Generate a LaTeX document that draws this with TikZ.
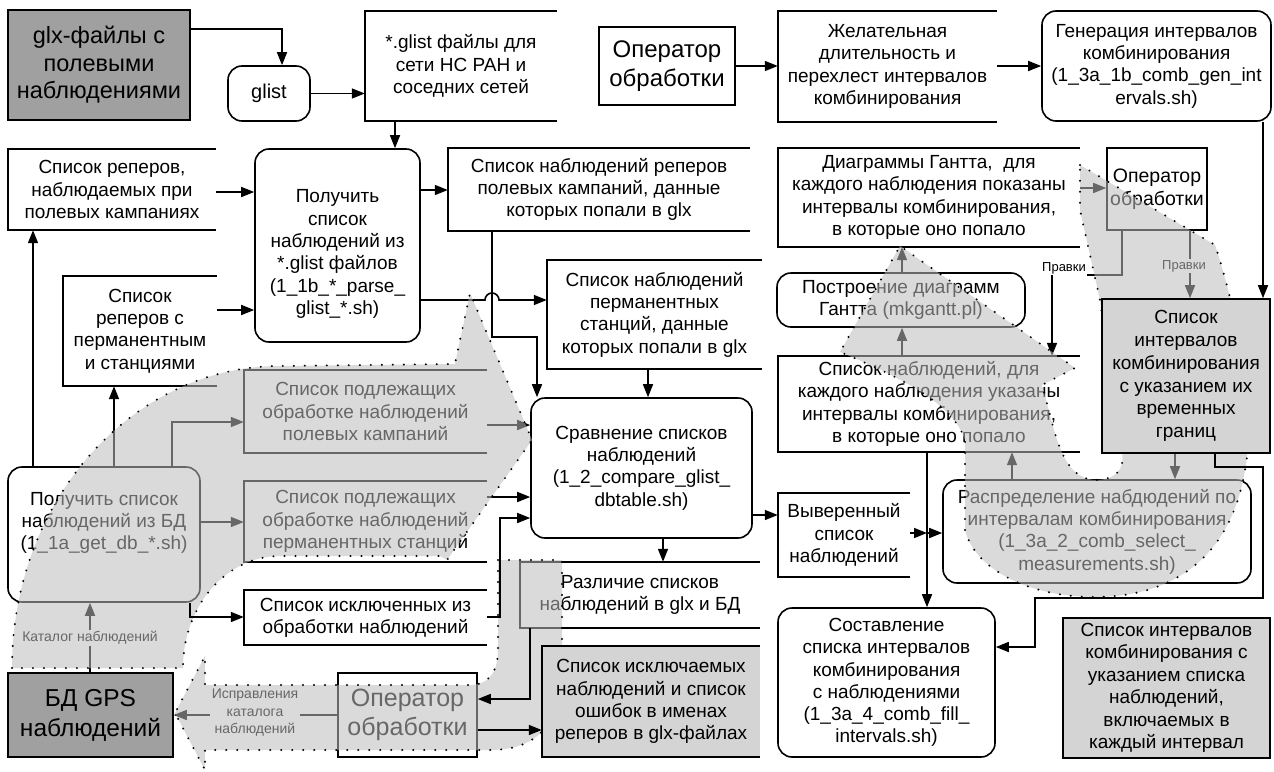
\documentclass[tikz,border=0pt]{standalone}
\usepackage{fontspec}
\setmainfont{Liberation Sans}
\usetikzlibrary{arrows.meta}
\definecolor{darkfill}{RGB}{160,160,160}
\definecolor{lightfill}{RGB}{212,212,212}
\definecolor{bandfill}{RGB}{188,188,188}
\pgfdeclarelayer{front}
\pgfsetlayers{main,front}
\newcommand\storelines[1]{\draw[boxline] (#1.north east) -- (#1.north west) -- (#1.south west) -- (#1.south east);}
\begin{document}
\begin{tikzpicture}[x=1pt,y=-1pt,
  boxline/.style={line width=1.6pt, draw=black},
  base/.style={inner sep=0pt, align=center, font=\fontsize{19}{22.3}\selectfont},
  proc/.style={base, draw, line width=1.6pt, rounded corners=14pt, rectangle},
  rect/.style={base, draw, line width=1.6pt, rectangle},
  store/.style={base, rectangle},
  arr/.style={line width=1.6pt, -{Triangle[length=13pt,width=10pt]}},
  conn/.style={line width=1.6pt},
  lbl/.style={font=\fontsize{14}{17.5}\selectfont, fill=white, inner sep=1.5pt, align=center},
  smalllbl/.style={font=\fontsize{13}{15}\selectfont, inner sep=1pt},
  band/.style={fill=bandfill, fill opacity=0.55, draw=black, line width=2.2pt, line cap=round, dash pattern=on 0pt off 11pt}]
\useasboundingbox (0,0) rectangle (1274,771);
\fill[white] (0,0) rectangle (1274,771);

% ---------- nodes ----------
\node[rect, fill=darkfill, minimum width=182pt, minimum height=110pt, font=\fontsize{23.5}{27.5}\selectfont] (glx) at (99,65) {glx-файлы с\\полевыми\\наблюдениями};
\node[proc, minimum width=82pt, minimum height=55pt, font=\fontsize{20}{24}\selectfont] (glist) at (269,93.5) {glist};
\node[store, minimum width=192pt, minimum height=110pt] (glistf) at (461,66) {*.glist файлы для\\сети НС РАН и\\соседних сетей};
\node[rect, minimum width=136pt, minimum height=78pt, font=\fontsize{24}{29}\selectfont] (op1) at (667,66) {Оператор\\обработки};
\node[store, minimum width=219pt, minimum height=111pt] (zhel) at (887.5,66.5) {Желательная\\длительность и\\перехлест интервалов\\комбинирования};
\node[proc, minimum width=229pt, minimum height=110pt] (gen) at (1156.5,66) {Генерация интервалов\\комбинирования\\(1\_3a\_1b\_comb\_gen\_int\\ervals.sh)};
\node[store, minimum width=208pt, minimum height=81pt] (reppol) at (112,189.5) {Список реперов,\\наблюдаемых при\\полевых кампаниях};
\node[proc, minimum width=165pt, minimum height=193pt] (parse) at (337.5,245.5) {};
\node[base] (parset) at (337.5,254) {Получить\\список\\наблюдений из\\*.glist файлов\\(1\_1b\_*\_parse\_\\glist\_*.sh)};
\node[store, minimum width=302pt, minimum height=83pt] (nabpol) at (599,189.5) {Список наблюдений реперов\\полевых кампаний, данные\\которых попали в glx};
\node[store, minimum width=302pt, minimum height=99pt] (gantt) at (929,197.5) {Диаграммы Гантта, \ для\\каждого наблюдения показаны\\интервалы комбинирования,\\в которые оно попало};
\node[rect, minimum width=100pt, minimum height=82pt, font=\fontsize{19.5}{23}\selectfont] (op2) at (1157,189) {Оператор\\обработки};
\node[store, minimum width=154pt, minimum height=110pt] (repperm) at (140,331) {Список\\реперов с\\перманентным\\и станциями};
\node[store, minimum width=215pt, minimum height=109pt] (nabperm) at (654.5,314.5) {Список наблюдений\\перманентных\\станций, данные\\которых попали в glx};
\node[proc, minimum width=248pt, minimum height=54pt] (mkg) at (901,300) {Построение диаграмм\\Гантта (mkgantt.pl)};
\node[store, minimum width=302pt, minimum height=96pt] (spisnab) at (929,404) {Список наблюдений, для\\каждого наблюдения указаны\\интервалы комбинирования,\\в которые оно попало};
\node[store, minimum width=243pt, minimum height=83pt] (podpol) at (365.5,411.5) {Список подлежащих\\обработке наблюдений\\полевых кампаний};
\node[store, minimum width=243pt, minimum height=81pt] (podperm) at (365.5,521.5) {Список подлежащих\\обработке наблюдений\\перманентных станций};
\node[store, minimum width=243pt, minimum height=55pt] (exclu) at (365.5,617.5) {Список исключенных из\\обработки наблюдений};
\node[proc, minimum width=221pt, minimum height=140pt] (cmp) at (641.5,468) {Сравнение списков\\наблюдений\\(1\_2\_compare\_glist\_\\dbtable.sh)};
\node[proc, minimum width=192pt, minimum height=135pt] (getdb) at (104,534.5) {};
\node[base] (getdbt) at (104,523) {Получить список\\наблюдений из БД\\(1\_1a\_get\_db\_*.sh)};
\node[store, minimum width=240pt, minimum height=66pt] (raz) at (640,595) {Различие списков\\наблюдений в glx и БД};
\node[store, minimum width=132pt, minimum height=84pt] (vyv) at (844,535) {Выверенный\\список\\наблюдений};
\node[proc, minimum width=308pt, minimum height=103pt] (rasp) at (1097,531.5) {Распределение набдюдений по\\интервалам комбинирования\\(1\_3a\_2\_comb\_select\_\\measurements.sh)};
\node[proc, minimum width=217pt, minimum height=149pt] (sost) at (886.5,682.5) {Составление\\списка интервалов\\комбинирования\\с наблюдениями\\(1\_3a\_4\_comb\_fill\_\\intervals.sh)};
\node[rect, fill=lightfill, minimum width=207pt, minimum height=140pt, font=\fontsize{19}{22.5}\selectfont] (final) at (1166.5,688) {Список интервалов\\комбинирования с\\указанием списка\\наблюдений,\\включаемых в\\каждый интервал};
\node[rect, minimum width=139pt, minimum height=84pt, font=\fontsize{25}{29}\selectfont] (op3) at (407.5,715) {Оператор\\обработки};
\node[rect, fill=darkfill, minimum width=165pt, minimum height=84pt, font=\fontsize{24.5}{30}\selectfont] (bd) at (90.5,715) {БД GPS\\наблюдений};

\storelines{glistf}
\storelines{zhel}
\storelines{reppol}
\storelines{nabpol}
\storelines{gantt}
\storelines{repperm}
\storelines{nabperm}
\storelines{spisnab}
\storelines{podpol}
\storelines{podperm}
\storelines{exclu}
\storelines{raz}
\storelines{vyv}

% ---------- front layer: boxes above the shaded bands ----------
\begin{pgfonlayer}{front}
\node[rect, fill=lightfill, minimum width=168pt, minimum height=154pt, font=\fontsize{19}{22.8}\selectfont] (intv) at (1186,376) {Список\\интервалов\\комбинирования\\с указанием их\\временных\\границ};
\node[store, fill=lightfill, minimum width=218pt, minimum height=111pt] (excl2) at (651,701.5) {Список исключаемых\\наблюдений и список\\ошибок в именах\\реперов в glx-файлах};
\storelines{excl2}
\draw[arr] (getdb.south -| 190,0) |- (exclu.west |- 0,617);
\draw[arr] (exclu.east |- 0,617) -| (500,560) |- (cmp.west |- 0,518);
\draw[arr] (raz.south -| 530,0) |- (op3.east |- 0,699);
\draw[arr] (op3.east |- 0,730) -- (excl2.west |- 0,730);
\draw[arr] (gen.south -| 1263,0) -- (intv.north -| 1263,0);
\draw[arr] (intv.south -| 1215,0) |- (1263,467) |- (1035,598) |- (sost.east |- 0,647);
\end{pgfonlayer}

% ---------- connectors ----------
\draw[arr] (glx.east |- 0,29) -| ([xshift=13pt]glist.north);
\draw[arr] (glist.east) -- (glist.east -| glistf.west);
\draw[arr] (glistf.south -| 395,0) -- (parse.north -| 395,0);
\draw[arr] (reppol.east |- 0,192) -- (parse.west |- 0,192);
\draw[arr] (repperm.east |- 0,310) -- (parse.west |- 0,310);
\draw[arr] (parse.east |- 0,190) -- (nabpol.west |- 0,190);
\draw[arr] (parse.east |- 0,300) -- (485,300) arc[start angle=180,end angle=0,radius=7pt] -- (nabperm.west |- 0,300);
\draw[arr] (nabpol.south -| 492,0) -- (492,337) -| (cmp.north -| 537,0);
\draw[arr] (nabperm.south -| 648,0) -- (cmp.north -| 648,0);
\draw[arr] (getdb.north -| 33,0) -- (reppol.south -| 33,0);
\draw[arr] (getdb.north -| 114,0) -- (repperm.south -| 114,0);
\draw[arr] (getdb.north -| 172,0) |- (podpol.west |- 0,422);
\draw[arr] (getdb.east |- 0,522) -- (podperm.west |- 0,522);
\draw[arr] (podpol.east |- 0,425) -- (cmp.west |- 0,425);
\draw[arr] (podperm.east |- 0,497) -- (cmp.west |- 0,497);
\draw[arr] (cmp.south -| 663,0) -- (raz.north -| 663,0);
\draw[arr] (cmp.east |- 0,515) -- (vyv.west |- 0,515);
\draw[arr] (bd.north -| 90,0) -- (getdb.south -| 90,0);
\node[lbl] (katl) at (90,638) {Каталог наблюдений};
\draw[arr] (op3.west) -- (bd.east);
\node[lbl] (ispr) at (255,713) {Исправления\\каталога\\наблюдений};
\draw[arr] (op1.east) -- (op1.east -| zhel.west);
\draw[arr] (zhel.east |- op1.east) -- (gen.west |- op1.east);
\draw[arr] (intv.south -| 1175,0) -- (rasp.north -| 1175,0);
\draw[arr] (rasp.north -| 1012,0) -- (spisnab.south -| 1012,0);
\draw[arr] (spisnab.south -| 927,0) -- (sost.north -| 927,0);
\coordinate (jn) at (927,533);
\draw[arr] (vyv.east |- jn) -- (jn);
\draw[arr] (jn) -- (rasp.west |- jn);
\draw[arr] (spisnab.north -| 902,0) -- (mkg.south -| 902,0);
\draw[arr] (mkg.north -| 902,0) -- (gantt.south -| 902,0);
\draw[arr] (gantt.east |- 0,188) -- (op2.west |- 0,188);
\node[smalllbl] (pr1) at (1064,268) {Правки};
\node[smalllbl] (pr2) at (1184,266) {Правки};
\draw[conn] (op2.south -| 1122,0) |- (pr1.east |- 0,275);
\draw[arr] (pr1.south -| 1052,0) -- (spisnab.north -| 1052,0);
\draw[conn] (op2.south -| 1190,0) -- (pr2.north -| 1190,0);
\draw[arr] (pr2.south -| 1190,0) -- (intv.north -| 1190,0);

% ---------- shaded feedback bands ----------
\path[band] (12,668) .. controls (12,501) and (132,366) .. (280,366) -- (455,364) -- (470,293) -- (532,440) -- (447,560) -- (440,556) -- (280,556) .. controls (226,556) and (183,606) .. (183,668) -- cycle;
\path[band] (498,560) -- (562,560) -- (562,670) .. controls (562,720) and (540,750) .. (490,750) -- (205,750) -- (205,770) -- (175,713) -- (205,656) -- (205,685) -- (470,685) .. controls (490,685) and (498,670) .. (498,650) -- cycle;
\path[band] (1080,165) -- (1215,245) .. controls (1240,320) and (1255,420) .. (1245,470) .. controls (1230,560) and (1170,597) .. (1095,597) .. controls (1030,597) and (975,570) .. (965,530) -- (965,440) .. controls (955,410) and (920,385) .. (840,352) -- (900,246) -- (1075,368) -- (1042,385) .. controls (1055,430) and (1060,478) .. (1095,480) .. controls (1115,480) and (1125,470) .. (1122,452) -- (1100,300) -- (1080,210) -- cycle;
\end{tikzpicture}
\end{document}
